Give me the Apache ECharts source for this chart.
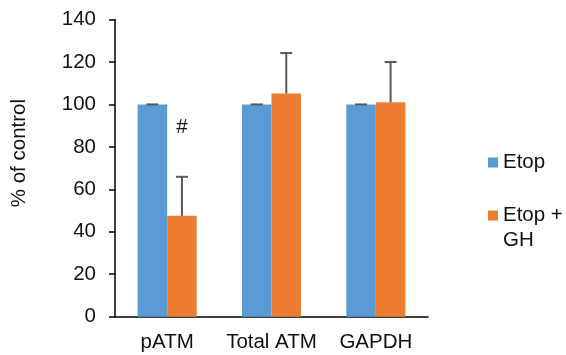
<!DOCTYPE html>
<html>
<head>
<meta charset="utf-8">
<script src="https://cdn.jsdelivr.net/npm/echarts@6/dist/echarts.min.js"></script>
<style>
html,body{margin:0;padding:0;background:#fff;}
#chart{width:566px;height:355px;}
</style>
</head>
<body>
<div id="chart"></div>
<script>
const categories = ['pATM', 'Total ATM', 'GAPDH'];
const seriesNames = ['Etop', 'Etop +\nGH'];
const etop = [100, 100, 100];
const etopGH = [47.5, 105.2, 101];
const etopErr = [0, 0, 0];
const etopGHErr = [18.4, 19, 19];
const annotations = ['#', '', ''];
const annotationValues = [89, null, null];
const yTicks = [0, 20, 40, 60, 80, 100, 120, 140];

const FONT = "'Liberation Sans', Arial, sans-serif";
const FS = 20.5;
const BAR_FRAC = 0.283;
const colors = ['#5B9BD5', '#ED7D31'];

const errData = [];
[etop, etopGH].forEach((vals, s) => {
  const errs = s === 0 ? etopErr : etopGHErr;
  vals.forEach((v, i) => errData.push([i, v, errs[i], s]));
});
const annData = [];
annotations.forEach((t, i) => { if (t) annData.push([i, annotationValues[i], t]); });

const legendText = {fontFamily: FONT, fontSize: FS, color: '#111', lineHeight: 25};

const chart = echarts.init(document.getElementById('chart'), null, {renderer: 'canvas'});
chart.setOption({
  animation: false,
  backgroundColor: '#fff',
  grid: {left: 115, right: 138, top: 19.5, bottom: 38.3, containLabel: false},
  legend: [
    {
      data: [seriesNames[0]], orient: 'vertical', left: 488, top: 150, padding: 0,
      itemWidth: 10, itemHeight: 10, icon: 'rect', textStyle: legendText
    },
    {
      data: [seriesNames[1]], orient: 'vertical', left: 488, top: 178, padding: 0,
      itemWidth: 10, itemHeight: 10, icon: 'rect', textStyle: legendText,
      formatter: name => '\n' + name
    }
  ],
  xAxis: {
    type: 'category', data: categories,
    axisLine: {lineStyle: {color: '#000', width: 1.5}},
    axisTick: {show: false},
    axisLabel: {fontFamily: FONT, fontSize: FS, color: '#111', margin: 15, interval: 0}
  },
  yAxis: {
    type: 'value', min: 0, max: 140, interval: 20,
    name: '% of control', nameLocation: 'middle', nameGap: 85, nameRotate: 90,
    nameTextStyle: {fontFamily: FONT, fontSize: FS, color: '#111', padding: [0, 0, 0, 30]},
    axisLine: {show: true, lineStyle: {color: '#000', width: 1.5}},
    axisTick: {show: true, inside: false, length: 6, lineStyle: {color: '#000', width: 1.5}},
    splitLine: {show: false},
    axisLabel: {fontFamily: FONT, fontSize: FS, color: '#111', margin: 19,
      formatter: v => (yTicks.indexOf(v) >= 0 ? String(v) : '')}
  },
  series: [
    {name: seriesNames[0], type: 'bar', data: etop, barWidth: (BAR_FRAC * 100) + '%', barGap: '0%',
      itemStyle: {color: colors[0]}},
    {name: seriesNames[1], type: 'bar', data: etopGH, barWidth: (BAR_FRAC * 100) + '%', barGap: '0%',
      itemStyle: {color: colors[1]}},
    {
      name: 'err', type: 'custom', data: errData, z: 5, silent: true,
      renderItem: function (params, api) {
        const idx = api.value(0), v = api.value(1), e = api.value(2), s = api.value(3);
        const band = api.size([1, 0])[0];
        const bw = band * BAR_FRAC;
        const cx = api.coord([idx, 0])[0] + (s === 0 ? -bw / 2 : bw / 2);
        const top = api.coord([idx, v])[1];
        const et = api.coord([idx, v + e])[1];
        const st = {stroke: '#595959', lineWidth: 2};
        const ch = [];
        if (e > 0) ch.push({type: 'line', shape: {x1: cx, y1: top, x2: cx, y2: et}, style: st});
        ch.push({type: 'line', shape: {x1: cx - 6, y1: et, x2: cx + 6, y2: et}, style: st});
        return {type: 'group', children: ch};
      }
    },
    {
      name: 'ann', type: 'custom', data: annData, z: 6, silent: true,
      renderItem: function (params, api) {
        const idx = api.value(0), v = api.value(1);
        const band = api.size([1, 0])[0];
        const bw = band * BAR_FRAC;
        const cx = api.coord([idx, 0])[0] + bw / 2;
        const y = api.coord([idx, v])[1];
        return {type: 'text', x: cx, y: y, style: {text: annData[params.dataIndex][2],
          fontFamily: FONT, fontSize: FS, fill: '#111', align: 'center', verticalAlign: 'middle'}};
      }
    }
  ]
});
</script>
</body>
</html>
